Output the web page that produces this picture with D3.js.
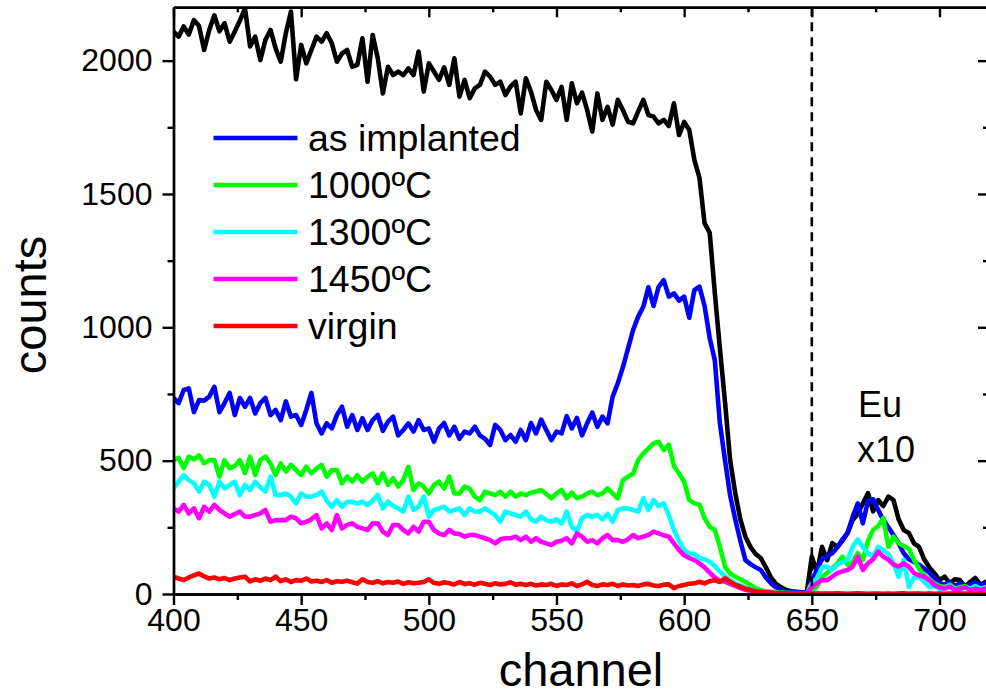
<!DOCTYPE html>
<html>
<head>
<meta charset="utf-8">
<script src="https://cdn.jsdelivr.net/npm/d3@7"></script>
<style>
  html, body { margin: 0; padding: 0; background: #fff; }
  svg { display: block; }
  text { font-family: "Liberation Sans", Arial, sans-serif; fill: #000; }
</style>
</head>
<body>
<svg id="chart" width="986" height="695"></svg>
<script>
// ---- data ----
const channels = d3.range(400, 720, 2); // 400..718, step 2

const xMajorTicks = [400, 450, 500, 550, 600, 650, 700];
const xMinorTicks = [425, 475, 525, 575, 625, 675];
const yMajorTicks = [0, 500, 1000, 1500, 2000];
const yMinorTicks = [250, 750, 1250, 1750];

const seriesNames = ["as implanted", "1000ºC", "1300ºC", "1450ºC", "virgin"];
const seriesColors = ["#0000ff", "#00ff00", "#00ffff", "#ff00ff", "#ff0000"];

const randomCounts = [
2109, 2090, 2128, 2098, 2152, 2130, 2040, 2115, 2170, 2110,
2140, 2071, 2109, 2150, 2196, 2053, 2090, 2002, 2078, 2115,
2046, 1996, 2103, 2184, 1930, 2059, 1990, 2040, 2090, 2071,
2103, 2065, 1996, 2027, 2040, 1977, 1984, 2084, 1921, 2096,
2009, 1877, 1977, 1946, 1959, 1946, 1971, 1946, 2034, 1884,
1990, 1959, 1928, 1975, 1909, 2009, 1865, 1928, 1859, 1896,
1909, 1959, 1940, 1909, 1921, 1871, 1903, 1921, 1802, 1934,
1884, 1815, 1778, 1921, 1890, 1853, 1902, 1778, 1915, 1840,
1880, 1815, 1734, 1877, 1778, 1827, 1760, 1853, 1815, 1771,
1765, 1810, 1853, 1796, 1790, 1765, 1778, 1755, 1840, 1721,
1770, 1740, 1628, 1560, 1390, 1355, 1130, 920, 720, 502,
379, 280, 215, 176, 150, 135, 100, 62, 38, 25,
15, 10, 8, 6, 4, 140, 79, 177, 127, 191,
176, 200, 229, 277, 300, 340, 378, 310, 352, 330,
365, 352, 280, 240, 229, 190, 177, 130, 100, 78,
52, 65, 40, 55, 52, 27, 45, 60, 35, 45];

const asImplanted = [
735, 716, 765, 771, 682, 727, 725, 740, 777, 682,
716, 754, 671, 735, 702, 735, 677, 716, 735, 671,
690, 652, 722, 665, 671, 634, 690, 754, 640, 602,
640, 621, 671, 702, 627, 671, 615, 659, 615, 652,
671, 612, 646, 665, 595, 615, 640, 609, 652, 615,
621, 571, 620, 641, 595, 627, 582, 609, 602, 627,
595, 582, 559, 634, 615, 577, 596, 571, 615, 577,
641, 602, 654, 615, 577, 609, 602, 667, 621, 660,
595, 640, 680, 627, 665, 640, 740, 790, 850, 920,
990, 1040, 1077, 1150, 1080, 1152, 1177, 1115, 1127, 1100,
1115, 1036, 1140, 1152, 1080, 960, 877, 640, 502, 370,
280, 200, 127, 112, 100, 90, 62, 40, 25, 15,
10, 8, 6, 5, 4, 52, 90, 130, 140, 153,
175, 205, 229, 290, 340, 265, 350, 355, 315, 277,
250, 220, 190, 153, 130, 120, 110, 95, 80, 60,
40, 35, 45, 30, 40, 30, 35, 45, 30, 40];

const t1000 = [
502, 510, 472, 515, 505, 520, 490, 502, 502, 440,
502, 471, 480, 502, 453, 515, 446, 502, 515, 490,
446, 490, 459, 484, 465, 446, 477, 453, 470, 484,
440, 465, 465, 415, 440, 421, 446, 421, 440, 452,
415, 452, 409, 434, 403, 428, 477, 390, 415, 403,
377, 409, 421, 396, 440, 377, 377, 403, 395, 365,
352, 384, 377, 371, 384, 365, 384, 365, 377, 371,
380, 384, 390, 375, 359, 377, 390, 359, 380, 359,
365, 377, 384, 371, 377, 396, 377, 359, 427, 440,
452, 502, 527, 545, 565, 571, 540, 560, 480, 452,
421, 352, 340, 335, 284, 252, 240, 177, 102, 77,
65, 55, 46, 34, 22, 15, 10, 8, 6, 5,
4, 4, 3, 3, 3, 15, 27, 65, 78, 95,
115, 140, 110, 120, 153, 128, 200, 240, 255, 285,
177, 215, 190, 180, 170, 128, 95, 70, 55, 40,
30, 25, 35, 20, 25, 30, 20, 25, 15, 20];

const t1300 = [
396, 421, 446, 427, 415, 384, 421, 409, 365, 421,
396, 409, 421, 371, 409, 390, 421, 400, 384, 440,
371, 371, 377, 365, 340, 377, 365, 365, 371, 384,
350, 327, 352, 327, 345, 346, 340, 346, 334, 350,
371, 321, 346, 330, 321, 309, 365, 315, 327, 365,
290, 315, 321, 327, 309, 315, 321, 296, 321, 309,
309, 321, 309, 296, 271, 309, 302, 296, 290, 309,
280, 271, 290, 277, 271, 280, 265, 309, 252, 234,
284, 296, 290, 296, 280, 300, 271, 315, 321, 321,
315, 309, 359, 315, 352, 330, 340, 296, 240, 200,
165, 152, 150, 134, 130, 121, 105, 84, 65, 52,
40, 32, 24, 18, 12, 9, 7, 5, 4, 4,
3, 3, 3, 2, 2, 40, 60, 100, 103, 90,
110, 120, 128, 177, 205, 175, 153, 140, 177, 165,
150, 115, 65, 128, 27, 60, 65, 45, 27, 30,
20, 25, 30, 20, 15, 25, 20, 30, 20, 25];

const t1450 = [
321, 309, 334, 302, 321, 284, 327, 309, 334, 315,
302, 290, 300, 309, 290, 290, 296, 302, 315, 271,
277, 277, 277, 290, 284, 265, 271, 280, 296, 246,
265, 240, 296, 246, 259, 265, 252, 246, 240, 265,
265, 234, 221, 259, 259, 240, 227, 252, 234, 271,
271, 240, 227, 221, 240, 227, 225, 215, 221, 221,
215, 209, 202, 190, 205, 209, 209, 215, 202, 215,
196, 209, 196, 190, 184, 196, 200, 209, 190, 227,
215, 196, 202, 190, 209, 221, 202, 202, 196, 205,
221, 209, 215, 221, 234, 227, 220, 215, 190, 165,
145, 135, 127, 115, 100, 80, 62, 50, 46, 38,
30, 22, 16, 12, 9, 7, 5, 4, 3, 3,
3, 2, 2, 2, 2, 27, 40, 52, 52, 65,
78, 85, 90, 103, 140, 90, 115, 130, 159, 140,
128, 110, 103, 115, 103, 78, 70, 65, 52, 33,
25, 20, 28, 15, 20, 25, 15, 20, 15, 20];

const virgin = [
65, 58, 52, 62, 70, 77, 66, 58, 62, 55,
60, 52, 58, 62, 65, 47, 55, 50, 58, 52,
65, 48, 55, 45, 52, 50, 58, 47, 50, 45,
52, 42, 48, 46, 50, 44, 39, 55, 45, 42,
48, 40, 45, 42, 47, 38, 44, 40, 42, 45,
55, 42, 38, 44, 40, 36, 45, 38, 40, 35,
42, 38, 34, 40, 36, 38, 44, 35, 38, 34,
38, 32, 36, 34, 38, 30, 36, 34, 40, 30,
36, 46, 34, 30, 36, 34, 38, 30, 36, 32,
34, 30, 36, 38, 32, 30, 35, 36, 22, 30,
34, 38, 40, 46, 40, 48, 52, 45, 59, 46,
34, 28, 20, 15, 10, 8, 6, 5, 4, 4,
3, 3, 3, 2, 2, 2, 2, 2, 2, 2,
3, 2, 1, 2, 3, 2, 1, 2, 2, 1,
2, 1, 2, 3, 1, 2, 2, 1, 2, 1,
2, 1, 2, 1, 2, 2, 1, 2, 1, 2];

const dashedAt = 650;

// ---- layout ----
const svg = d3.select("#chart");
const L = 173.5, R = 988, T = 7.3, B = 594;
const x = d3.scaleLinear().domain([400, 719]).range([L, R]);
const y = d3.scaleLinear().domain([0, 2200]).range([B, T]);

svg.append("clipPath").attr("id", "clip")
  .append("rect").attr("x", L).attr("y", T).attr("width", R - L).attr("height", B - T);

const line = d3.line().x((d, i) => x(channels[i])).y(d => y(d));

const drawOrder = [
  {v: randomCounts, c: "#000000"},
  {v: asImplanted, c: seriesColors[0]},
  {v: t1000, c: seriesColors[1]},
  {v: t1300, c: seriesColors[2]},
  {v: t1450, c: seriesColors[3]},
  {v: virgin, c: seriesColors[4]}
];

const plot = svg.append("g").attr("clip-path", "url(#clip)");
plot.selectAll("path.series").data(drawOrder).join("path")
  .attr("class", "series")
  .attr("d", d => line(d.v))
  .attr("fill", "none")
  .attr("stroke", d => d.c)
  .attr("stroke-width", 4.6)
  .attr("stroke-linejoin", "round")
  .attr("stroke-linecap", "round");

// dashed marker
svg.append("line")
  .attr("x1", x(dashedAt)).attr("x2", x(dashedAt))
  .attr("y1", T).attr("y2", B)
  .attr("stroke", "#000").attr("stroke-width", 2.6)
  .attr("stroke-dasharray", "9,6");

// ---- axes ----
function styleAxis(g) {
  g.selectAll("path.domain").attr("stroke", "#000").attr("stroke-width", 2.4);
  g.selectAll(".tick line").attr("stroke", "#000").attr("stroke-width", 2.4);
  g.selectAll(".tick text").attr("font-size", 32).attr("font-family", "Liberation Sans, Arial, sans-serif");
}

const xBottom = svg.append("g").attr("transform", `translate(0,${B})`)
  .call(d3.axisBottom(x).tickValues(xMajorTicks).tickSize(11).tickSizeOuter(0).tickPadding(3).tickFormat(d3.format("d")));
styleAxis(xBottom);
const xBottomMinor = svg.append("g").attr("transform", `translate(0,${B})`)
  .call(d3.axisBottom(x).tickValues(xMinorTicks).tickSize(6).tickSizeOuter(0).tickFormat(""));
styleAxis(xBottomMinor);

const xTop = svg.append("g").attr("transform", `translate(0,${T})`)
  .call(d3.axisBottom(x).tickValues(xMajorTicks).tickSize(10).tickSizeOuter(0).tickFormat(""));
styleAxis(xTop);
const xTopMinor = svg.append("g").attr("transform", `translate(0,${T})`)
  .call(d3.axisBottom(x).tickValues(xMinorTicks).tickSize(5).tickSizeOuter(0).tickFormat(""));
styleAxis(xTopMinor);

const yLeft = svg.append("g").attr("transform", `translate(${L},0)`)
  .call(d3.axisLeft(y).tickValues(yMajorTicks).tickSize(11).tickSizeOuter(0).tickPadding(10).tickFormat(d3.format("d")));
styleAxis(yLeft);
const yLeftMinor = svg.append("g").attr("transform", `translate(${L},0)`)
  .call(d3.axisLeft(y).tickValues(yMinorTicks).tickSize(6).tickSizeOuter(0).tickFormat(""));
styleAxis(yLeftMinor);

const yRight = svg.append("g").attr("transform", `translate(${R},0)`)
  .call(d3.axisLeft(y).tickValues(yMajorTicks).tickSize(10).tickSizeOuter(0).tickFormat(""));
styleAxis(yRight);
const yRightMinor = svg.append("g").attr("transform", `translate(${R},0)`)
  .call(d3.axisLeft(y).tickValues(yMinorTicks).tickSize(5).tickSizeOuter(0).tickFormat(""));
styleAxis(yRightMinor);

// axis titles
svg.append("text").attr("x", 581).attr("y", 686)
  .attr("text-anchor", "middle").attr("font-size", 47).text("channel");
svg.append("text").attr("transform", "translate(46,305) rotate(-90)")
  .attr("text-anchor", "middle").attr("font-size", 47).text("counts");

// Eu annotation
svg.append("text").attr("x", 858).attr("y", 417).attr("font-size", 36).text("Eu");
svg.append("text").attr("x", 857).attr("y", 462).attr("font-size", 36).text("x10");

// legend
const legendY = [138, 185, 232, 279, 326];
const lg = svg.append("g");
seriesNames.forEach((name, i) => {
  lg.append("line").attr("x1", 213.5).attr("x2", 297.5)
    .attr("y1", legendY[i]).attr("y2", legendY[i])
    .attr("stroke", seriesColors[i]).attr("stroke-width", 4.6);
  lg.append("text").attr("x", 308).attr("y", legendY[i] + 12.5)
    .attr("font-size", 37.5).text(name);
});
</script>
</body>
</html>
